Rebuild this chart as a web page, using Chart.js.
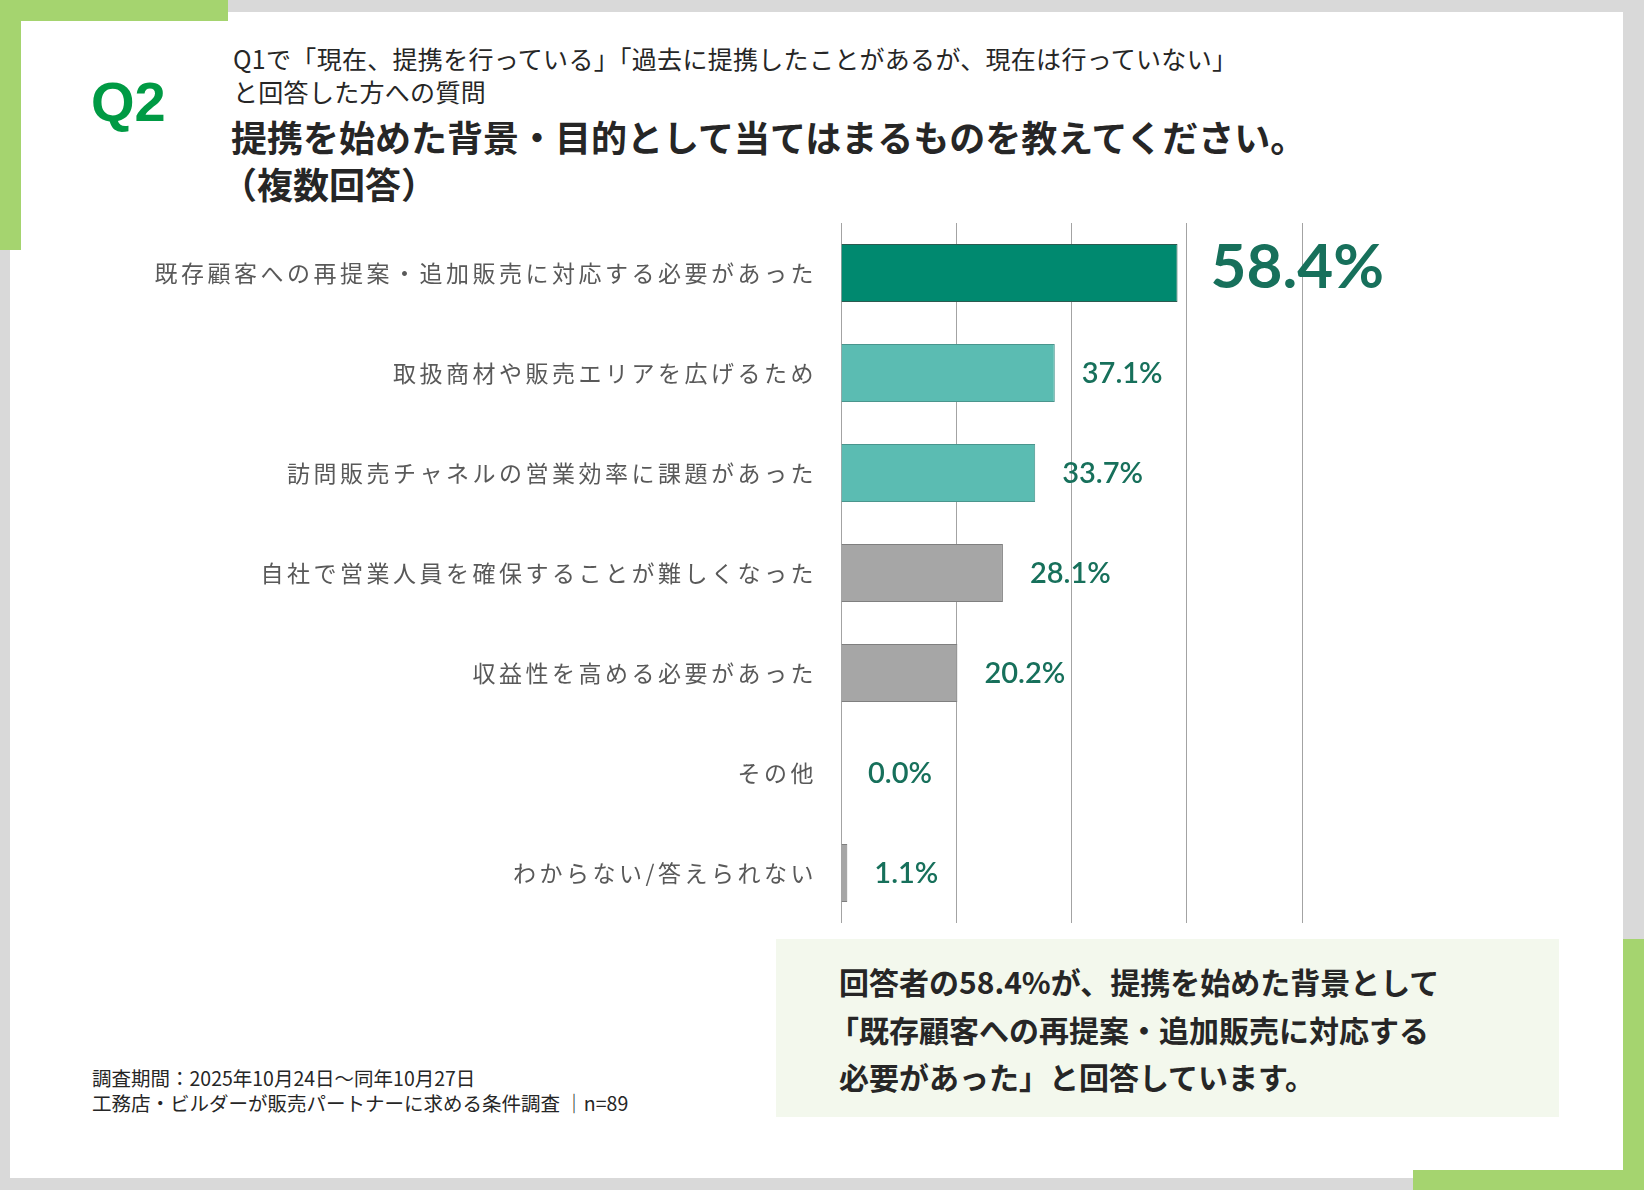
<!DOCTYPE html>
<html lang="ja">
<head>
<meta charset="utf-8">
<title>Q2 提携を始めた背景・目的</title>
<script src="https://cdn.jsdelivr.net/npm/chart.js@4.4.1/dist/chart.umd.min.js"></script>
<style>
  html, body { margin: 0; padding: 0; }
  body { width: 1644px; height: 1190px; background: #d9d9d9; position: relative; overflow: hidden;
         font-family: "Noto Sans CJK JP", "Noto Sans", sans-serif; color: #262626; }
  .abs { position: absolute; white-space: nowrap; }
  .panel { left: 10px; top: 12px; width: 1613px; height: 1166px; background: #fff; }
  .green { background: #a5d46f; }
  .q { left: 91px; top: 74px; font: bold 56px "Liberation Sans", Arial, sans-serif; color: #009a44; line-height: 56px; }
  .sub { left: 233px; font-size: 25px; letter-spacing: 0.3px; line-height: 30px; }
  .title { left: 231px; font-size: 36px; font-weight: bold; line-height: 44px; }
  .note { left: 92px; font-size: 19.5px; line-height: 24px; }
  .box { left: 776px; top: 939px; width: 783px; height: 178px; background: #f3f8ed; }
  .msg { left: 839px; font-size: 30px; font-weight: bold; line-height: 40px; }
  #chart { position: absolute; left: 0; top: 0; }
</style>
</head>
<body>
<div class="abs panel"></div>
<div class="abs green" style="left:0;top:0;width:228px;height:21px"></div>
<div class="abs green" style="left:0;top:0;width:21px;height:250px"></div>
<div class="abs green" style="left:1623px;top:939px;width:21px;height:251px"></div>
<div class="abs green" style="left:1413px;top:1170px;width:231px;height:20px"></div>

<div class="abs q">Q2</div>
<div class="abs sub" style="top:43px">Q1で「現在、提携を行っている」「過去に提携したことがあるが、現在は行っていない」</div>
<div class="abs sub" style="top:76px">と回答した方への質問</div>
<div class="abs title" style="top:114px">提携を始めた背景・目的として当てはまるものを教えてください。</div>
<div class="abs title" style="top:161px;left:221px">（複数回答）</div>

<div class="abs box"></div>
<div class="abs msg" style="top:961px">回答者の58.4%が、提携を始めた背景として</div>
<div class="abs msg" style="top:1009px;left:829px">「既存顧客への再提案・追加販売に対応する</div>
<div class="abs msg" style="top:1056px">必要があった」と回答しています。</div>

<div class="abs note" style="top:1066px">調査期間：2025年10月24日～同年10月27日</div>
<div class="abs note" style="top:1091px">工務店・ビルダーが販売パートナーに求める条件調査 ｜n=89</div>

<canvas id="chart" width="1644" height="1190"></canvas>

<script>
// 回答項目と割合(%)
const categories = [
  '既存顧客への再提案・追加販売に対応する必要があった',
  '取扱商材や販売エリアを広げるため',
  '訪問販売チャネルの営業効率に課題があった',
  '自社で営業人員を確保することが難しくなった',
  '収益性を高める必要があった',
  'その他',
  'わからない/答えられない'
];
const values = [58.4, 37.1, 33.7, 28.1, 20.2, 0.0, 1.1];
const xTicks = [0, 20, 40, 60, 80];

const barColors = ['#00896f', '#5bbcb2', '#5bbcb2', '#a6a6a6', '#a6a6a6', '#a6a6a6', '#a6a6a6'];
const barEdges = ['#2c5a50', '#4a958d', '#4a958d', '#7f7f7f', '#7f7f7f', '#7f7f7f', '#7f7f7f'];

// tick labels in the source are spaced out
const tickSpacing = {
  id: 'tickSpacing',
  beforeDraw(chart) { chart.ctx.letterSpacing = '3.5px'; },
  beforeDatasetsDraw(chart) { chart.ctx.letterSpacing = '0px'; }
};

const valueLabels = {
  id: 'valueLabels',
  afterDatasetsDraw(chart) {
    const ctx = chart.ctx;
    const meta = chart.getDatasetMeta(0);
    ctx.save();
    ctx.fillStyle = '#17705b';
    ctx.textAlign = 'left';
    ctx.textBaseline = 'middle';
    meta.data.forEach((bar, i) => {
      const top = i === 0;
      ctx.font = top ? 'bold 62px Lato' : '600 29px Lato';
      ctx.fillText(values[i].toFixed(1) + '%', bar.x + (top ? 33 : 27), bar.y + (top ? -5 : 1));
    });
    ctx.restore();
  }
};

new Chart(document.getElementById('chart'), {
  type: 'bar',
  data: {
    labels: categories,
    datasets: [{
      data: values,
      backgroundColor: barColors,
      borderColor: barEdges,
      borderWidth: 1,
      barPercentage: 0.58,
      categoryPercentage: 1
    }]
  },
  options: {
    indexAxis: 'y',
    responsive: false,
    animation: false,
    devicePixelRatio: 1,
    layout: { padding: { left: 0, top: 223, right: 342, bottom: 267 } },
    plugins: { legend: { display: false }, tooltip: { enabled: false } },
    scales: {
      x: {
        min: xTicks[0],
        max: xTicks[xTicks.length - 1],
        afterBuildTicks(scale) { scale.ticks = xTicks.map(v => ({ value: v })); },
        ticks: { display: false },
        grid: { color: '#a3a3a3', lineWidth: 1, drawTicks: false },
        border: { display: false }
      },
      y: {
        afterFit(scale) { scale.width = 841; },
        ticks: {
          color: '#595959',
          padding: 24,
          font: { family: '"Noto Sans CJK JP"', size: 23 }
        },
        grid: { display: false, drawTicks: false },
        border: { display: false }
      }
    }
  },
  plugins: [tickSpacing, valueLabels]
});
</script>
</body>
</html>
